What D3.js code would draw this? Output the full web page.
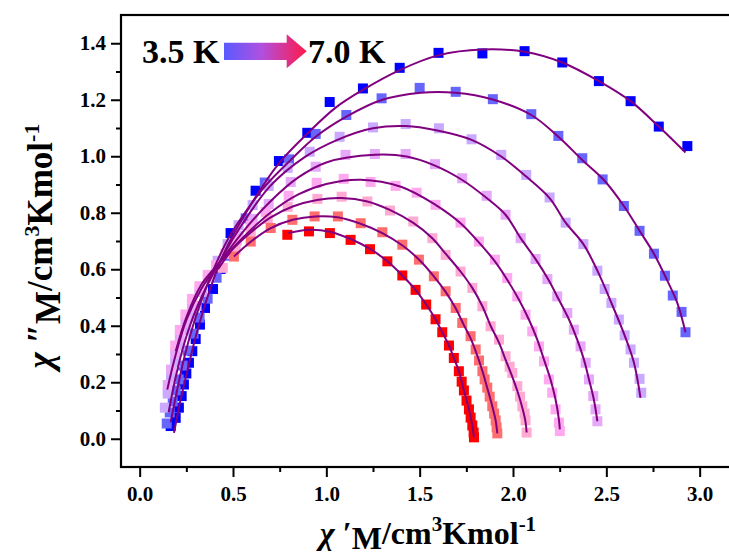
<!DOCTYPE html>
<html>
<head>
<meta charset="utf-8">
<script src="https://cdn.jsdelivr.net/npm/d3@7"></script>
<style>
  body { margin: 0; background: #fff; }
  svg { display: block; }
  text { font-family: "Liberation Serif", "Times New Roman", serif; font-weight: bold; }
</style>
</head>
<body>
<div id="chart"></div>
<script>
// temperatures, 3.5 K .. 7.0 K
const temps = ["3.5K", "4.0K", "4.5K", "5.0K", "5.5K", "6.0K", "6.5K", "7.0K"];
const colors = ["#0000ff", "#6666ff", "#c9aaff", "#e6a8f8", "#ffaaf0", "#ffaad2", "#ff6e6e", "#ff0000"];

const xTicks = [0.0, 0.5, 1.0, 1.5, 2.0, 2.5, 3.0];
const yTicks = [0.0, 0.2, 0.4, 0.6, 0.8, 1.0, 1.2, 1.4];

// measured points [chi', chi'']
const d35 = [[0.166,0.045],[0.193,0.074],[0.210,0.110],[0.225,0.151],[0.237,0.192],[0.250,0.231],[0.264,0.269],[0.282,0.310],[0.300,0.353],[0.323,0.404],[0.350,0.463],[0.393,0.530],[0.434,0.601],[0.487,0.728],[0.621,0.878],[0.746,0.983],[0.898,1.083],[1.018,1.192],[1.196,1.240],[1.393,1.313],[1.601,1.366],[1.836,1.364],[2.062,1.372],[2.264,1.332],[2.460,1.266],[2.630,1.195],[2.781,1.105],[2.934,1.036]];
const d40 = [[0.145,0.054],[0.161,0.093],[0.177,0.132],[0.193,0.171],[0.209,0.210],[0.230,0.259],[0.257,0.312],[0.289,0.372],[0.321,0.429],[0.364,0.496],[0.412,0.570],[0.471,0.648],[0.568,0.780],[0.670,0.907],[0.800,0.989],[0.943,1.079],[1.107,1.146],[1.296,1.205],[1.500,1.242],[1.693,1.228],[1.892,1.202],[2.098,1.149],[2.243,1.072],[2.371,0.993],[2.480,0.918],[2.594,0.824],[2.678,0.736],[2.755,0.655],[2.814,0.577],[2.856,0.507],[2.903,0.449],[2.924,0.377]];
const d45 = [[0.135,0.110],[0.150,0.160],[0.168,0.215],[0.190,0.270],[0.215,0.330],[0.245,0.385],[0.270,0.430],[0.305,0.470],[0.337,0.520],[0.375,0.575],[0.418,0.630],[0.471,0.689],[0.530,0.756],[0.605,0.827],[0.691,0.895],[0.793,0.959],[0.911,1.016],[1.071,1.069],[1.250,1.102],[1.425,1.114],[1.603,1.099],[1.778,1.060],[1.937,1.005],[2.071,0.934],[2.196,0.854],[2.282,0.765],[2.377,0.689],[2.452,0.595],[2.491,0.530],[2.527,0.481],[2.567,0.422],[2.598,0.366],[2.630,0.316],[2.648,0.269],[2.678,0.212],[2.687,0.163]];
const d50 = [[0.150,0.190],[0.168,0.245],[0.190,0.300],[0.215,0.355],[0.245,0.410],[0.280,0.465],[0.320,0.520],[0.365,0.570],[0.410,0.610],[0.461,0.655],[0.530,0.718],[0.605,0.778],[0.691,0.831],[0.809,0.909],[0.943,0.963],[1.103,1.005],[1.260,1.008],[1.425,1.008],[1.582,0.972],[1.728,0.922],[1.859,0.860],[1.960,0.793],[2.041,0.710],[2.121,0.636],[2.184,0.565],[2.237,0.504],[2.291,0.445],[2.326,0.386],[2.362,0.327],[2.389,0.269],[2.407,0.210],[2.430,0.151],[2.442,0.104],[2.452,0.062]];
const d55 = [[0.190,0.330],[0.215,0.385],[0.245,0.440],[0.280,0.495],[0.320,0.540],[0.365,0.580],[0.410,0.615],[0.460,0.655],[0.520,0.701],[0.595,0.754],[0.675,0.803],[0.798,0.860],[0.948,0.906],[1.093,0.920],[1.237,0.909],[1.371,0.895],[1.484,0.871],[1.585,0.828],[1.719,0.765],[1.817,0.698],[1.903,0.634],[1.969,0.569],[2.023,0.504],[2.067,0.439],[2.103,0.380],[2.139,0.327],[2.166,0.274],[2.192,0.210],[2.210,0.163],[2.228,0.104],[2.246,0.057],[2.251,0.027]];
const d60 = [[0.445,0.605],[0.514,0.669],[0.595,0.729],[0.686,0.778],[0.793,0.821],[0.952,0.849],[1.082,0.857],[1.220,0.840],[1.341,0.808],[1.466,0.769],[1.568,0.710],[1.639,0.651],[1.719,0.592],[1.782,0.534],[1.836,0.469],[1.880,0.398],[1.925,0.351],[1.960,0.292],[1.982,0.255],[1.996,0.233],[2.023,0.186],[2.038,0.149],[2.050,0.115],[2.062,0.089],[2.067,0.065],[2.073,0.022]];
const d65 = [[0.505,0.645],[0.595,0.698],[0.702,0.746],[0.818,0.775],[0.937,0.787],[1.062,0.787],[1.184,0.763],[1.300,0.731],[1.407,0.687],[1.496,0.634],[1.576,0.575],[1.639,0.522],[1.693,0.463],[1.728,0.410],[1.773,0.363],[1.800,0.316],[1.818,0.277],[1.836,0.239],[1.848,0.210],[1.862,0.181],[1.875,0.149],[1.889,0.115],[1.899,0.089],[1.907,0.065],[1.912,0.040],[1.916,0.019]];
const d70 = [[0.791,0.722],[0.907,0.734],[1.019,0.728],[1.130,0.704],[1.234,0.671],[1.327,0.628],[1.407,0.578],[1.478,0.527],[1.535,0.475],[1.585,0.423],[1.621,0.377],[1.657,0.330],[1.683,0.286],[1.710,0.239],[1.725,0.202],[1.737,0.171],[1.751,0.135],[1.764,0.104],[1.773,0.075],[1.782,0.047],[1.789,0.022],[1.791,0.005]];

// fitted curves
const f35 = [[0.184,0.021],[0.215,0.125],[0.250,0.225],[0.300,0.360],[0.370,0.515],[0.450,0.655],[0.612,0.846],[0.746,0.975],[0.898,1.080],[1.050,1.172],[1.196,1.235],[1.393,1.305],[1.603,1.358],[1.836,1.378],[2.062,1.370],[2.264,1.332],[2.460,1.266],[2.630,1.195],[2.781,1.105],[2.924,1.013]];
const f40 = [[0.166,0.058],[0.200,0.170],[0.240,0.290],[0.300,0.430],[0.380,0.575],[0.480,0.715],[0.580,0.815],[0.670,0.893],[0.800,0.981],[0.943,1.069],[1.107,1.140],[1.296,1.199],[1.505,1.225],[1.693,1.225],[1.892,1.201],[2.098,1.146],[2.243,1.069],[2.371,0.987],[2.487,0.916],[2.594,0.824],[2.678,0.736],[2.755,0.655],[2.814,0.577],[2.880,0.481],[2.924,0.377]];
const f45 = [[0.155,0.093],[0.190,0.210],[0.240,0.340],[0.310,0.470],[0.430,0.628],[0.550,0.760],[0.700,0.895],[0.880,0.995],[1.059,1.058],[1.250,1.099],[1.425,1.107],[1.595,1.091],[1.778,1.058],[1.937,0.999],[2.071,0.928],[2.196,0.852],[2.282,0.765],[2.377,0.689],[2.452,0.595],[2.527,0.481],[2.598,0.366],[2.648,0.269],[2.683,0.145]];
const f50 = [[0.148,0.174],[0.190,0.290],[0.250,0.420],[0.330,0.530],[0.430,0.625],[0.550,0.730],[0.700,0.840],[0.850,0.925],[1.000,0.978],[1.260,1.005],[1.430,0.999],[1.582,0.967],[1.728,0.916],[1.859,0.852],[1.960,0.793],[2.041,0.710],[2.121,0.636],[2.190,0.563],[2.246,0.492],[2.300,0.422],[2.344,0.351],[2.380,0.280],[2.407,0.210],[2.433,0.139],[2.452,0.062]];
const f55 = [[0.193,0.310],[0.250,0.430],[0.330,0.545],[0.430,0.625],[0.550,0.710],[0.700,0.800],[0.850,0.865],[1.000,0.902],[1.184,0.917],[1.400,0.892],[1.585,0.828],[1.719,0.763],[1.817,0.695],[1.903,0.628],[1.969,0.563],[2.032,0.492],[2.085,0.422],[2.130,0.351],[2.166,0.280],[2.201,0.210],[2.228,0.139],[2.246,0.068],[2.251,0.033]];
const f60 = [[0.420,0.600],[0.500,0.672],[0.600,0.733],[0.700,0.783],[0.820,0.822],[0.950,0.845],[1.080,0.852],[1.220,0.840],[1.340,0.810],[1.466,0.764],[1.568,0.710],[1.639,0.655],[1.719,0.592],[1.782,0.534],[1.836,0.469],[1.880,0.400],[1.925,0.340],[1.960,0.280],[1.996,0.220],[2.023,0.170],[2.050,0.110],[2.067,0.060],[2.073,0.022]];
const f65 = [[0.505,0.645],[0.600,0.700],[0.700,0.745],[0.820,0.775],[0.940,0.787],[1.060,0.784],[1.180,0.762],[1.300,0.728],[1.410,0.683],[1.500,0.632],[1.576,0.575],[1.639,0.520],[1.693,0.462],[1.735,0.405],[1.773,0.355],[1.800,0.310],[1.836,0.240],[1.862,0.180],[1.889,0.115],[1.907,0.065],[1.916,0.019]];
const f70 = [[0.797,0.728],[0.907,0.740],[1.019,0.733],[1.130,0.707],[1.234,0.672],[1.327,0.628],[1.407,0.578],[1.478,0.527],[1.535,0.475],[1.585,0.423],[1.621,0.377],[1.657,0.330],[1.683,0.286],[1.710,0.239],[1.737,0.171],[1.764,0.104],[1.782,0.047],[1.791,0.005]];

const points = [d35, d40, d45, d50, d55, d60, d65, d70];
const fits = [f35, f40, f45, f50, f55, f60, f65, f70];

const width = 729, height = 556;
const svg = d3.select("#chart").append("svg")
    .attr("width", width)
    .attr("height", height);

const x = d3.scaleLinear().domain([-0.1, 3.2]).range([121, 737]);
const y = d3.scaleLinear().domain([-0.1, 1.5]).range([467, 15]);

// minor ticks first
svg.append("g")
    .attr("transform", `translate(0, ${y.range()[0]})`)
    .call(d3.axisBottom(x).tickValues(d3.range(0.25, 3.0, 0.5)).tickSize(5).tickFormat(""))
    .call(g => g.select(".domain").remove());
svg.append("g")
    .attr("transform", `translate(${x.range()[0]}, 0)`)
    .call(d3.axisLeft(y).tickValues(d3.range(0.1, 1.4, 0.2)).tickSize(5).tickFormat(""))
    .call(g => g.select(".domain").remove());

const xAxis = svg.append("g")
    .attr("transform", `translate(0, ${y.range()[0]})`)
    .call(d3.axisBottom(x).tickValues(xTicks).tickSize(10).tickSizeOuter(0).tickPadding(9).tickFormat(d3.format(".1f")));
const yAxis = svg.append("g")
    .attr("transform", `translate(${x.range()[0]}, 0)`)
    .call(d3.axisLeft(y).tickValues(yTicks).tickSize(10).tickSizeOuter(0).tickPadding(5).tickFormat(d3.format(".1f")));

svg.selectAll(".tick line").attr("stroke", "#000").attr("stroke-width", 2);
[xAxis, yAxis].forEach(a => {
    a.select(".domain").remove();
    a.selectAll("text")
        .style("font-size", "21px")
        .style("font-family", "'Liberation Serif', 'Times New Roman', serif")
        .style("font-weight", "bold")
        .attr("fill", "#000");
});

// frame (right edge is off the page)
svg.append("rect")
    .attr("x", x.range()[0])
    .attr("y", y.range()[1])
    .attr("width", x.range()[1] - x.range()[0])
    .attr("height", y.range()[0] - y.range()[1])
    .attr("fill", "none")
    .attr("stroke", "#000")
    .attr("stroke-width", 2.2);

const plot = svg.append("g");

// squares
const sq = 10;
points.forEach((series, i) => {
    plot.append("g")
        .selectAll("rect")
        .data(series)
        .enter().append("rect")
        .attr("x", d => x(d[0]) - sq / 2)
        .attr("y", d => y(d[1]) - sq / 2)
        .attr("width", sq)
        .attr("height", sq)
        .attr("fill", colors[i]);
});

// fit lines
const line = d3.line()
    .x(d => x(d[0]))
    .y(d => y(d[1]))
    .curve(d3.curveCatmullRom.alpha(0.5));

fits.forEach(f => {
    plot.append("path")
        .datum(f)
        .attr("d", line)
        .attr("fill", "none")
        .attr("stroke", "#800080")
        .attr("stroke-width", 2);
});

// legend
const defs = svg.append("defs");
const grad = defs.append("linearGradient")
    .attr("id", "legend-gradient")
    .attr("x1", "0%").attr("y1", "0%")
    .attr("x2", "100%").attr("y2", "0%");
grad.append("stop").attr("offset", "0%").attr("stop-color", "#5a5aff");
grad.append("stop").attr("offset", "45%").attr("stop-color", "#b050e0");
grad.append("stop").attr("offset", "100%").attr("stop-color", "#ff1a4a");

svg.append("text")
    .attr("x", 142)
    .attr("y", 63)
    .style("font-size", "34px")
    .text("3.5 K");

svg.append("path")
    .attr("d", "M224,42.7 L286.7,42.7 L286.7,34.3 L306.7,51.3 L286.7,68.3 L286.7,60 L224,60 Z")
    .attr("fill", "url(#legend-gradient)");

svg.append("text")
    .attr("x", 308)
    .attr("y", 63)
    .style("font-size", "34px")
    .text("7.0 K");

// axis titles
const xt = svg.append("text")
    .attr("x", 428)
    .attr("y", 544)
    .attr("text-anchor", "middle")
    .style("font-size", "32px");
xt.append("tspan").style("font-style", "italic").text("χ");
xt.append("tspan").text("  ′");
xt.append("tspan").attr("dy", 5).text("M");
xt.append("tspan").attr("dy", -5).text("/cm");
xt.append("tspan").attr("dy", -13).style("font-size", "21px").text("3");
xt.append("tspan").attr("dy", 13).text("Kmol");
xt.append("tspan").attr("dy", -13).style("font-size", "21px").text("-1");

const yt = svg.append("text")
    .attr("transform", "translate(52, 246) rotate(-90)")
    .attr("text-anchor", "middle")
    .style("font-size", "35px");
yt.append("tspan").style("font-style", "italic").text("χ");
yt.append("tspan").text("  ″");
yt.append("tspan").attr("dy", 8).text("M");
yt.append("tspan").attr("dy", -8).text("/cm");
yt.append("tspan").attr("dy", -13).style("font-size", "22px").text("3");
yt.append("tspan").attr("dy", 13).text("Kmol");
yt.append("tspan").attr("dy", -13).style("font-size", "22px").text("-1");
</script>
</body>
</html>
